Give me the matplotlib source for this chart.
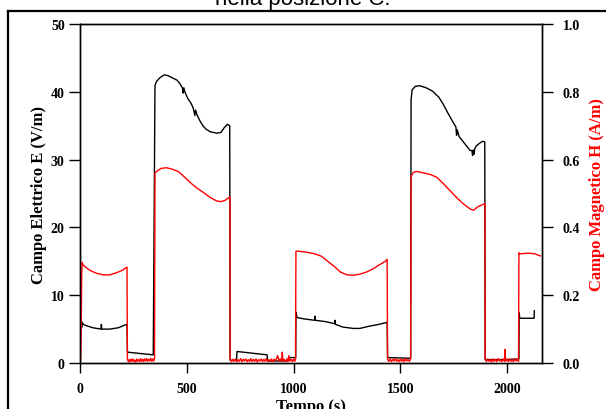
import matplotlib
matplotlib.use("Agg")
import matplotlib.pyplot as plt
from matplotlib.lines import Line2D

# Campo elettrico E (V/m), asse sinistro
t_e = [9, 11, 15, 30, 60, 98, 100, 102, 140, 180, 210, 220, 222, 343,
       351, 355, 360, 375, 395, 410, 430, 455, 470, 480, 483, 486, 492, 505,
       520, 530, 538, 541, 548, 560, 575, 590, 610, 640, 660, 675, 690, 701,
       703, 733, 735, 876, 878, 974, 976, 1010,
       1011, 1016, 1050, 1098, 1100, 1102, 1150, 1192, 1194, 1196, 1230, 1280,
       1310, 1350, 1400, 1438, 1440, 1548,
       1550, 1555, 1570, 1590, 1620, 1650, 1680, 1700, 1720, 1745, 1760, 1763,
       1766, 1775, 1790, 1805, 1815, 1825, 1835, 1838, 1841, 1845, 1848, 1855,
       1870, 1885, 1895, 1897, 1990, 2055,
       2056, 2059, 2126, 2127]
campo_e = [5.3, 6.0, 5.7, 5.5, 5.2, 5.0, 5.7, 5.0, 5.0, 5.2, 5.6, 5.7, 1.6, 1.2,
           40.9, 41.3, 41.6, 42.1, 42.5, 42.4, 42.1, 41.7, 41.1, 40.5, 39.8, 40.6, 39.9, 39.0,
           38.3, 37.6, 36.5, 37.3, 36.6, 35.8, 35.0, 34.5, 34.1, 33.9, 34.0, 34.7, 35.2, 35.0,
           0.4, 0.4, 1.7, 1.2, 0.3, 0.3, 0.8, 0.8,
           7.5, 6.7, 6.5, 6.3, 6.9, 6.3, 6.1, 5.8, 6.3, 5.7, 5.3, 5.1,
           5.1, 5.4, 5.7, 6.0, 0.8, 0.7,
           38.8, 40.3, 40.8, 40.9, 40.6, 40.1, 39.2, 38.2, 37.0, 35.6, 34.8, 33.6,
           34.4, 33.4, 32.8, 32.2, 31.8, 31.4, 31.3, 30.6, 31.4, 30.8, 31.6, 32.0,
           32.4, 32.7, 32.6, 0.5, 0.5, 0.6,
           7.4, 6.6, 6.6, 7.7]

# Campo magnetico H (A/m), asse destro
t_h = [2, 4, 6, 8, 10, 14, 25, 50, 80, 110, 140, 170, 200, 220,
       222, 226, 230, 234, 238, 243, 247, 252, 256, 261, 266, 270, 275, 280,
       284, 289, 294, 298, 303, 308, 312, 317, 322, 327, 331, 336, 341, 345, 349,
       351, 360, 380, 405, 430, 460, 490, 520, 550, 580, 610, 640, 660, 680, 695, 702,
       703, 710, 716, 722, 728, 734, 740, 746, 752, 758, 764, 770, 776, 782,
       788, 794, 800, 806, 812, 818, 824, 830, 836, 842, 848, 854, 860, 866,
       872, 878, 884, 890, 896, 902, 908, 914, 920, 925, 932, 938, 944, 947,
       950, 956, 962, 968, 974, 978, 982, 988, 994, 1000, 1005, 1009,
       1011, 1020, 1060, 1100, 1130, 1160, 1190, 1220, 1250, 1280, 1310, 1340,
       1370, 1400, 1430, 1438,
       1440, 1446, 1452, 1458, 1464, 1470, 1476, 1482, 1488, 1494, 1500, 1506,
       1512, 1518, 1524, 1530, 1536, 1542, 1548,
       1550, 1560, 1575, 1600, 1640, 1670, 1700, 1730, 1760, 1790, 1810, 1830,
       1845, 1860, 1880, 1896,
       1897, 1903, 1909, 1915, 1921, 1927, 1933, 1939, 1945, 1951, 1957, 1963,
       1969, 1975, 1981, 1987, 1990, 1993, 1999, 2005, 2011, 2017, 2023, 2029,
       2035, 2041, 2047, 2053,
       2055, 2060, 2100, 2130, 2155]
campo_h = [0.0, 0.03, 0.12, 0.26, 0.297, 0.29, 0.283, 0.272, 0.264, 0.260, 0.260, 0.266, 0.274, 0.283,
           0.012, 0.004, 0.010, 0.003, 0.011, 0.005, 0.012, 0.004, 0.009, 0.003, 0.012, 0.005, 0.010, 0.004,
           0.013, 0.005, 0.011, 0.004, 0.012, 0.006, 0.013, 0.005, 0.011, 0.006, 0.014, 0.005, 0.012, 0.006, 0.013,
           0.560, 0.566, 0.574, 0.576, 0.572, 0.565, 0.548, 0.530, 0.515, 0.502, 0.488, 0.478, 0.476, 0.480, 0.487, 0.490,
           0.010, 0.004, 0.011, 0.005, 0.012, 0.003, 0.010, 0.005, 0.013, 0.004, 0.011, 0.006, 0.012, 0.004,
           0.010, 0.005, 0.013, 0.004, 0.011, 0.005, 0.012, 0.003, 0.010, 0.006, 0.012, 0.004, 0.011, 0.005,
           0.013, 0.004, 0.010, 0.005, 0.012, 0.004, 0.011, 0.006, 0.013, 0.022, 0.006, 0.012, 0.005, 0.032,
           0.006, 0.011, 0.004, 0.012, 0.005, 0.022, 0.006, 0.011, 0.004, 0.012, 0.005, 0.010,
           0.330, 0.330, 0.327, 0.322, 0.315, 0.300, 0.285, 0.268, 0.260, 0.259, 0.262, 0.268,
           0.277, 0.289, 0.300, 0.306,
           0.010, 0.005, 0.012, 0.004, 0.011, 0.006, 0.013, 0.005, 0.010, 0.004, 0.012, 0.005,
           0.011, 0.004, 0.013, 0.006, 0.010, 0.005, 0.012,
           0.550, 0.562, 0.565, 0.562, 0.556, 0.548, 0.530, 0.510, 0.490, 0.472, 0.462, 0.453,
           0.451, 0.460, 0.466, 0.470,
           0.011, 0.004, 0.012, 0.005, 0.010, 0.003, 0.012, 0.005, 0.011, 0.004, 0.013, 0.006,
           0.010, 0.004, 0.012, 0.005, 0.040, 0.006, 0.011, 0.004, 0.012, 0.005, 0.010, 0.004,
           0.012, 0.006, 0.011, 0.005,
           0.325, 0.322, 0.324, 0.322, 0.316]

serif = {'family': 'Liberation Serif', 'weight': 'bold'}

fig = plt.figure(figsize=(6.06, 4.10), dpi=100)
ax = fig.add_axes([80/606, 1-364/410, 462/606, 339/410])
ax2 = ax.twinx()

ax.plot(t_e, campo_e, color='black', lw=1.0)
ax2.plot(t_h, campo_h, color='#ff0000', lw=1.0)

ax.set_xlim(0, 2163)
ax.set_ylim(0, 50)
ax2.set_ylim(0, 1.0)
ax.set_xticks([0, 500, 1000, 1500, 2000])
ax.set_yticks([0, 10, 20, 30, 40, 50])
ax2.set_yticks([0.0, 0.2, 0.4, 0.6, 0.8, 1.0])
ax2.set_yticklabels(['0.0', '0.2', '0.4', '0.6', '0.8', '1.0'])

for a in (ax, ax2):
    for s in a.spines.values():
        s.set_linewidth(1.0)
ax.tick_params(axis='y', direction='out', length=8, width=1, pad=3)
ax.tick_params(axis='x', direction='out', length=7, width=1, pad=7)
ax2.tick_params(axis='y', direction='out', length=8, width=1, pad=7)
for lab in ax.get_xticklabels() + ax.get_yticklabels() + ax2.get_yticklabels():
    lab.set_fontproperties(serif)
    lab.set_fontsize(10)

ax.set_xlabel('Tempo (s)', fontsize=12, **serif)
ax.xaxis.set_label_coords(0.5, -0.102)
ax.set_ylabel('Campo Elettrico E (V/m)', fontsize=12, va='center', **serif)
ax.yaxis.set_label_coords(-0.088, 0.5)
ax2.set_ylabel('Campo Magnetico H (A/m)', fontsize=12, va='center', color='#ff0000', **serif)
ax2.yaxis.set_label_coords(1.119, 0.5)

fig.text(0.5, 1-5/410, 'nella posizione C.', ha='center', va='baseline',
         fontsize=16, family='Liberation Sans')

# cornice esterna (tagliata a destra e in basso)
x0 = 7.5/606
y0 = 1-11.5/410
fig.add_artist(Line2D([x0, 1.01], [y0, y0], transform=fig.transFigure, color='black', lw=1.6))
fig.add_artist(Line2D([x0, x0], [y0, -0.01], transform=fig.transFigure, color='black', lw=1.6))

fig.savefig('out.png', dpi=100)
